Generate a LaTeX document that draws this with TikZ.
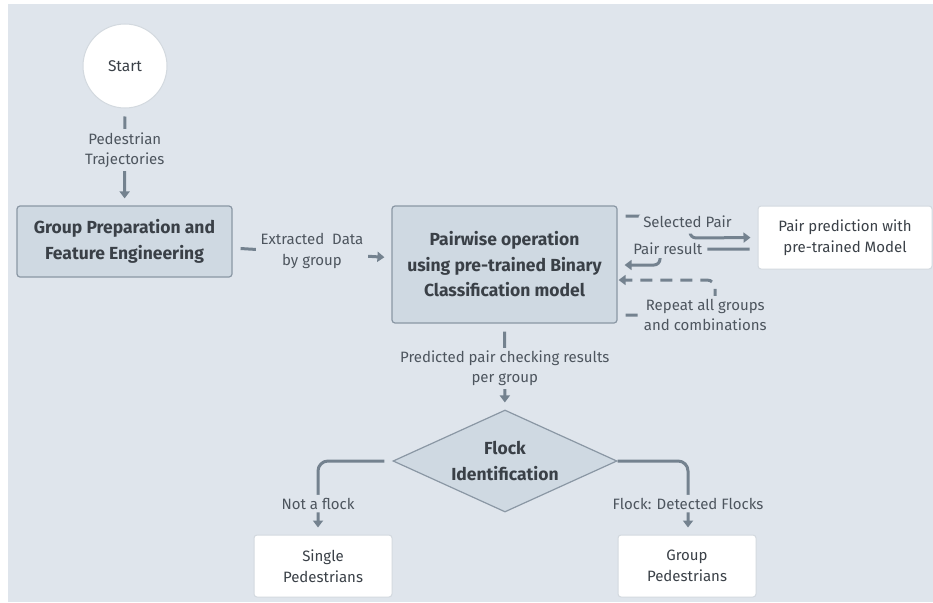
\documentclass[tikz,border=0pt]{standalone}
\usepackage{fontspec}
\setmainfont{Fira Sans}
\usetikzlibrary{arrows.meta, positioning, shapes.geometric}
\definecolor{bgcol}{HTML}{DFE5EC}
\definecolor{boxcol}{HTML}{CFD9E2}
\definecolor{edgecol}{HTML}{8A97A4}
\definecolor{paleedge}{HTML}{D3D9DF}
\definecolor{linecol}{HTML}{74828F}
\definecolor{textcol}{HTML}{3A4047}
\definecolor{lblcol}{HTML}{4D555E}

\begin{document}
\begin{tikzpicture}[x=1pt, y=-1pt,
  stepbox/.style={rectangle, rounded corners=3pt, draw=edgecol, line width=1.2pt, fill=boxcol, text=textcol, align=center, font=\fontsize{17.5}{25.5}\selectfont\bfseries},
  whitebox/.style={rectangle, rounded corners=3pt, draw=paleedge, line width=1pt, fill=white, text=textcol, align=center, font=\fontsize{15}{20.5}\selectfont},
  flow/.style={draw=linecol, line width=3pt, shorten <=8pt, shorten >=7pt, -{Triangle[length=7pt, width=10pt]}},
  lbl/.style={fill=bgcol, text=lblcol, align=center, inner xsep=5pt, inner ysep=3pt, font=\fontsize{15}{20.5}\selectfont}
]
  \fill[bgcol] (8,4) rectangle (933,602);
  \useasboundingbox (0,0) rectangle (933,602);

  \node[circle, draw=paleedge, line width=1pt, fill=white, text=textcol, minimum size=84pt, font=\fontsize{15.5}{18}\selectfont] (start) at (125, 66) {Start};
  \node[stepbox, minimum width=215pt, minimum height=71pt] (prep) at (124.5, 241.5) {Group Preparation and\\Feature Engineering};
  \node[stepbox, minimum width=225pt, minimum height=117pt] (pairwise) at (504.5, 264.5) {Pairwise operation\\using pre-trained Binary\\Classification model};
  \node[whitebox, minimum width=174pt, minimum height=63pt] (predict) at (845, 237.5) {Pair prediction with\\pre-trained Model};
  \node[diamond, draw=edgecol, line width=1.2pt, fill=boxcol, inner sep=0pt, minimum width=224pt, minimum height=102pt,
    label={[text=textcol, align=center, font=\fontsize{17.5}{25.5}\selectfont\bfseries]center:Flock\\Identification}] (flock) at (505, 461) {};
  \node[whitebox, minimum width=138pt, minimum height=62pt] (single) at (323, 566) {Single\\Pedestrians};
  \node[whitebox, minimum width=138pt, minimum height=62pt] (group) at (687, 566) {Group\\Pedestrians};

  \draw[flow] (start) -- node[lbl, pos=.43] {Pedestrian\\Trajectories} (prep);
  \draw[flow] (prep) -- node[lbl, yshift=2pt] {Extracted~~Data\\by group} (pairwise);
  \draw[flow, rounded corners=6pt] ([yshift=48.5pt]pairwise.east) -- (690, 216) -- node[lbl, pos=1, anchor=south, xshift=-2.5pt, yshift=3pt, text depth=3pt] {Selected Pair} (690, 238) -- (predict.west);
  \draw[flow, rounded corners=6pt] ([yshift=-11.5pt]predict.west) -- node[lbl, pos=.92] {Pair result} (660, 249) -- (660, 265) -- ([yshift=-0.5pt]pairwise.east);
  \draw[flow, dash pattern=on 12pt off 8pt, rounded corners=8pt, shorten >=1pt] ([yshift=-50.5pt]pairwise.east) -- node[lbl, pos=.9] {Repeat all groups\\and combinations} (715, 315) -- (715, 280) -- ([yshift=-15.5pt]pairwise.east);
  \draw[flow] (pairwise) -- node[lbl, pos=.52] {Predicted pair checking results\\per group} (flock);
  \draw[flow, rounded corners=10pt] (flock.west) -- (318, 461) -- node[lbl, pos=.58] {Not a flock} ([xshift=-5pt]single.north);
  \draw[flow, rounded corners=10pt, shorten <=0pt] (flock.east) -- (688, 461) -- node[lbl, pos=.58] {Flock: Detected Flocks} ([xshift=1pt]group.north);
\end{tikzpicture}
\end{document}
